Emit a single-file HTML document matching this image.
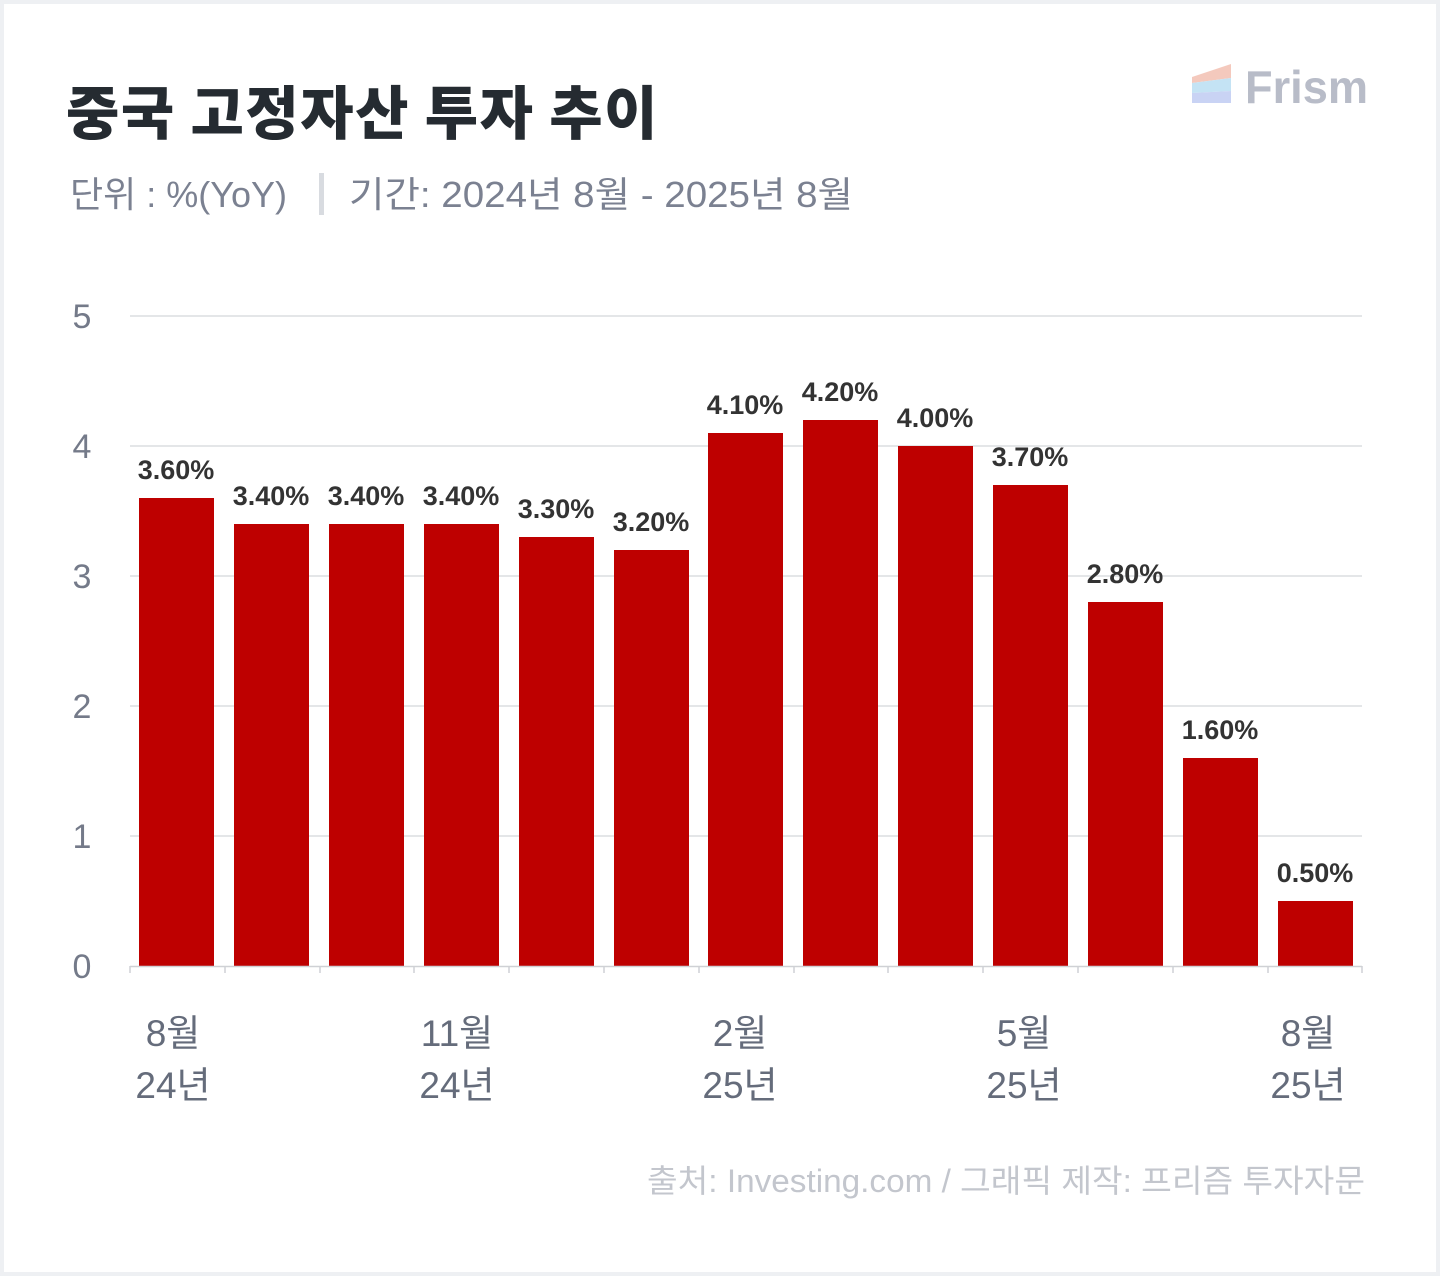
<!DOCTYPE html>
<html><head><meta charset="utf-8"><style>
html,body{margin:0;padding:0;background:#fff}
svg{display:block}
</style></head><body>
<svg width="1440" height="1276" viewBox="0 0 1440 1276" xmlns="http://www.w3.org/2000/svg" font-family="'Liberation Sans','Noto Sans CJK KR',sans-serif">
<rect x="0" y="0" width="1440" height="1276" fill="#eef0f3"/>
<rect x="4" y="4" width="1432" height="1268" fill="#ffffff"/>
<text x="66" y="134" font-size="58" font-weight="900" fill="#252b31" font-family="'Noto Sans CJK KR',sans-serif" letter-spacing="1.5">중국 고정자산 투자 추이</text>
<text x="70" y="207" font-size="36" fill="#7b8191" font-family="'Liberation Sans','Noto Sans CJK KR',sans-serif">단위 : %(YoY)</text>
<rect x="319" y="173" width="5" height="42" fill="#d8dbe0"/>
<text x="349" y="207" font-size="36" fill="#7b8191" font-family="'Liberation Sans','Noto Sans CJK KR',sans-serif" textLength="504" lengthAdjust="spacingAndGlyphs">기간: 2024년 8월 - 2025년 8월</text>
<g>
<polygon points="1192,77 1231,64 1231,78 1192,83" fill="#f4c9bd"/>
<polygon points="1192,83 1231,78 1231,91 1192,93" fill="#c4e3f4"/>
<polygon points="1192,93 1231,91 1231,103 1192,103" fill="#c9d3f4"/>
<text x="1245" y="103" font-size="46" font-weight="bold" fill="#b8bcc8" textLength="123" lengthAdjust="spacingAndGlyphs">Frism</text>
</g>
<g stroke="#dcdde0" stroke-width="1.5">
<line x1="130" y1="316" x2="1362" y2="316"/>
<line x1="130" y1="446" x2="1362" y2="446"/>
<line x1="130" y1="576" x2="1362" y2="576"/>
<line x1="130" y1="706" x2="1362" y2="706"/>
<line x1="130" y1="836" x2="1362" y2="836"/>
</g>
<g font-size="34" fill="#747a89" text-anchor="middle">
<text x="82" y="328">5</text><text x="82" y="458">4</text><text x="82" y="588">3</text>
<text x="82" y="718">2</text><text x="82" y="848">1</text><text x="82" y="978">0</text>
</g>
<g fill="#be0000">
<rect x="139" y="498" width="75" height="468"/>
<rect x="234" y="524" width="75" height="442"/>
<rect x="329" y="524" width="75" height="442"/>
<rect x="424" y="524" width="75" height="442"/>
<rect x="519" y="537" width="75" height="429"/>
<rect x="614" y="550" width="75" height="416"/>
<rect x="708" y="433" width="75" height="533"/>
<rect x="803" y="420" width="75" height="546"/>
<rect x="898" y="446" width="75" height="520"/>
<rect x="993" y="485" width="75" height="481"/>
<rect x="1088" y="602" width="75" height="364"/>
<rect x="1183" y="758" width="75" height="208"/>
<rect x="1278" y="901" width="75" height="65"/>
</g>
<g font-size="27" font-weight="bold" fill="#333" text-anchor="middle">
<text x="176" y="479">3.60%</text>
<text x="271" y="505">3.40%</text>
<text x="366" y="505">3.40%</text>
<text x="461" y="505">3.40%</text>
<text x="556" y="518">3.30%</text>
<text x="651" y="531">3.20%</text>
<text x="745" y="414">4.10%</text>
<text x="840" y="401">4.20%</text>
<text x="935" y="427">4.00%</text>
<text x="1030" y="466">3.70%</text>
<text x="1125" y="583">2.80%</text>
<text x="1220" y="739">1.60%</text>
<text x="1315" y="882">0.50%</text>
</g>
<g stroke="#cfd1d5" stroke-width="1.5">
<line x1="130" y1="966.5" x2="1362" y2="966.5"/>
<line x1="130" y1="966" x2="130" y2="973"/><line x1="225" y1="966" x2="225" y2="973"/>
<line x1="320" y1="966" x2="320" y2="973"/><line x1="414" y1="966" x2="414" y2="973"/>
<line x1="509" y1="966" x2="509" y2="973"/><line x1="604" y1="966" x2="604" y2="973"/>
<line x1="699" y1="966" x2="699" y2="973"/><line x1="794" y1="966" x2="794" y2="973"/>
<line x1="888" y1="966" x2="888" y2="973"/><line x1="983" y1="966" x2="983" y2="973"/>
<line x1="1078" y1="966" x2="1078" y2="973"/><line x1="1173" y1="966" x2="1173" y2="973"/>
<line x1="1268" y1="966" x2="1268" y2="973"/><line x1="1362" y1="966" x2="1362" y2="973"/>
</g>
<g font-size="37" fill="#656c7b" text-anchor="middle" font-family="'Liberation Sans','Noto Sans CJK KR',sans-serif">
<text x="173" y="1046">8월</text><text x="173" y="1098">24년</text>
<text x="457" y="1046">11월</text><text x="457" y="1098">24년</text>
<text x="740" y="1046">2월</text><text x="740" y="1098">25년</text>
<text x="1024" y="1046">5월</text><text x="1024" y="1098">25년</text>
<text x="1308" y="1046">8월</text><text x="1308" y="1098">25년</text>
</g>
<text x="647" y="1192" font-size="32" fill="#c3c6cd" font-family="'Liberation Sans','Noto Sans CJK KR',sans-serif" textLength="718" lengthAdjust="spacingAndGlyphs">출처: Investing.com / 그래픽 제작: 프리즘 투자자문</text>
</svg>
</body></html>
